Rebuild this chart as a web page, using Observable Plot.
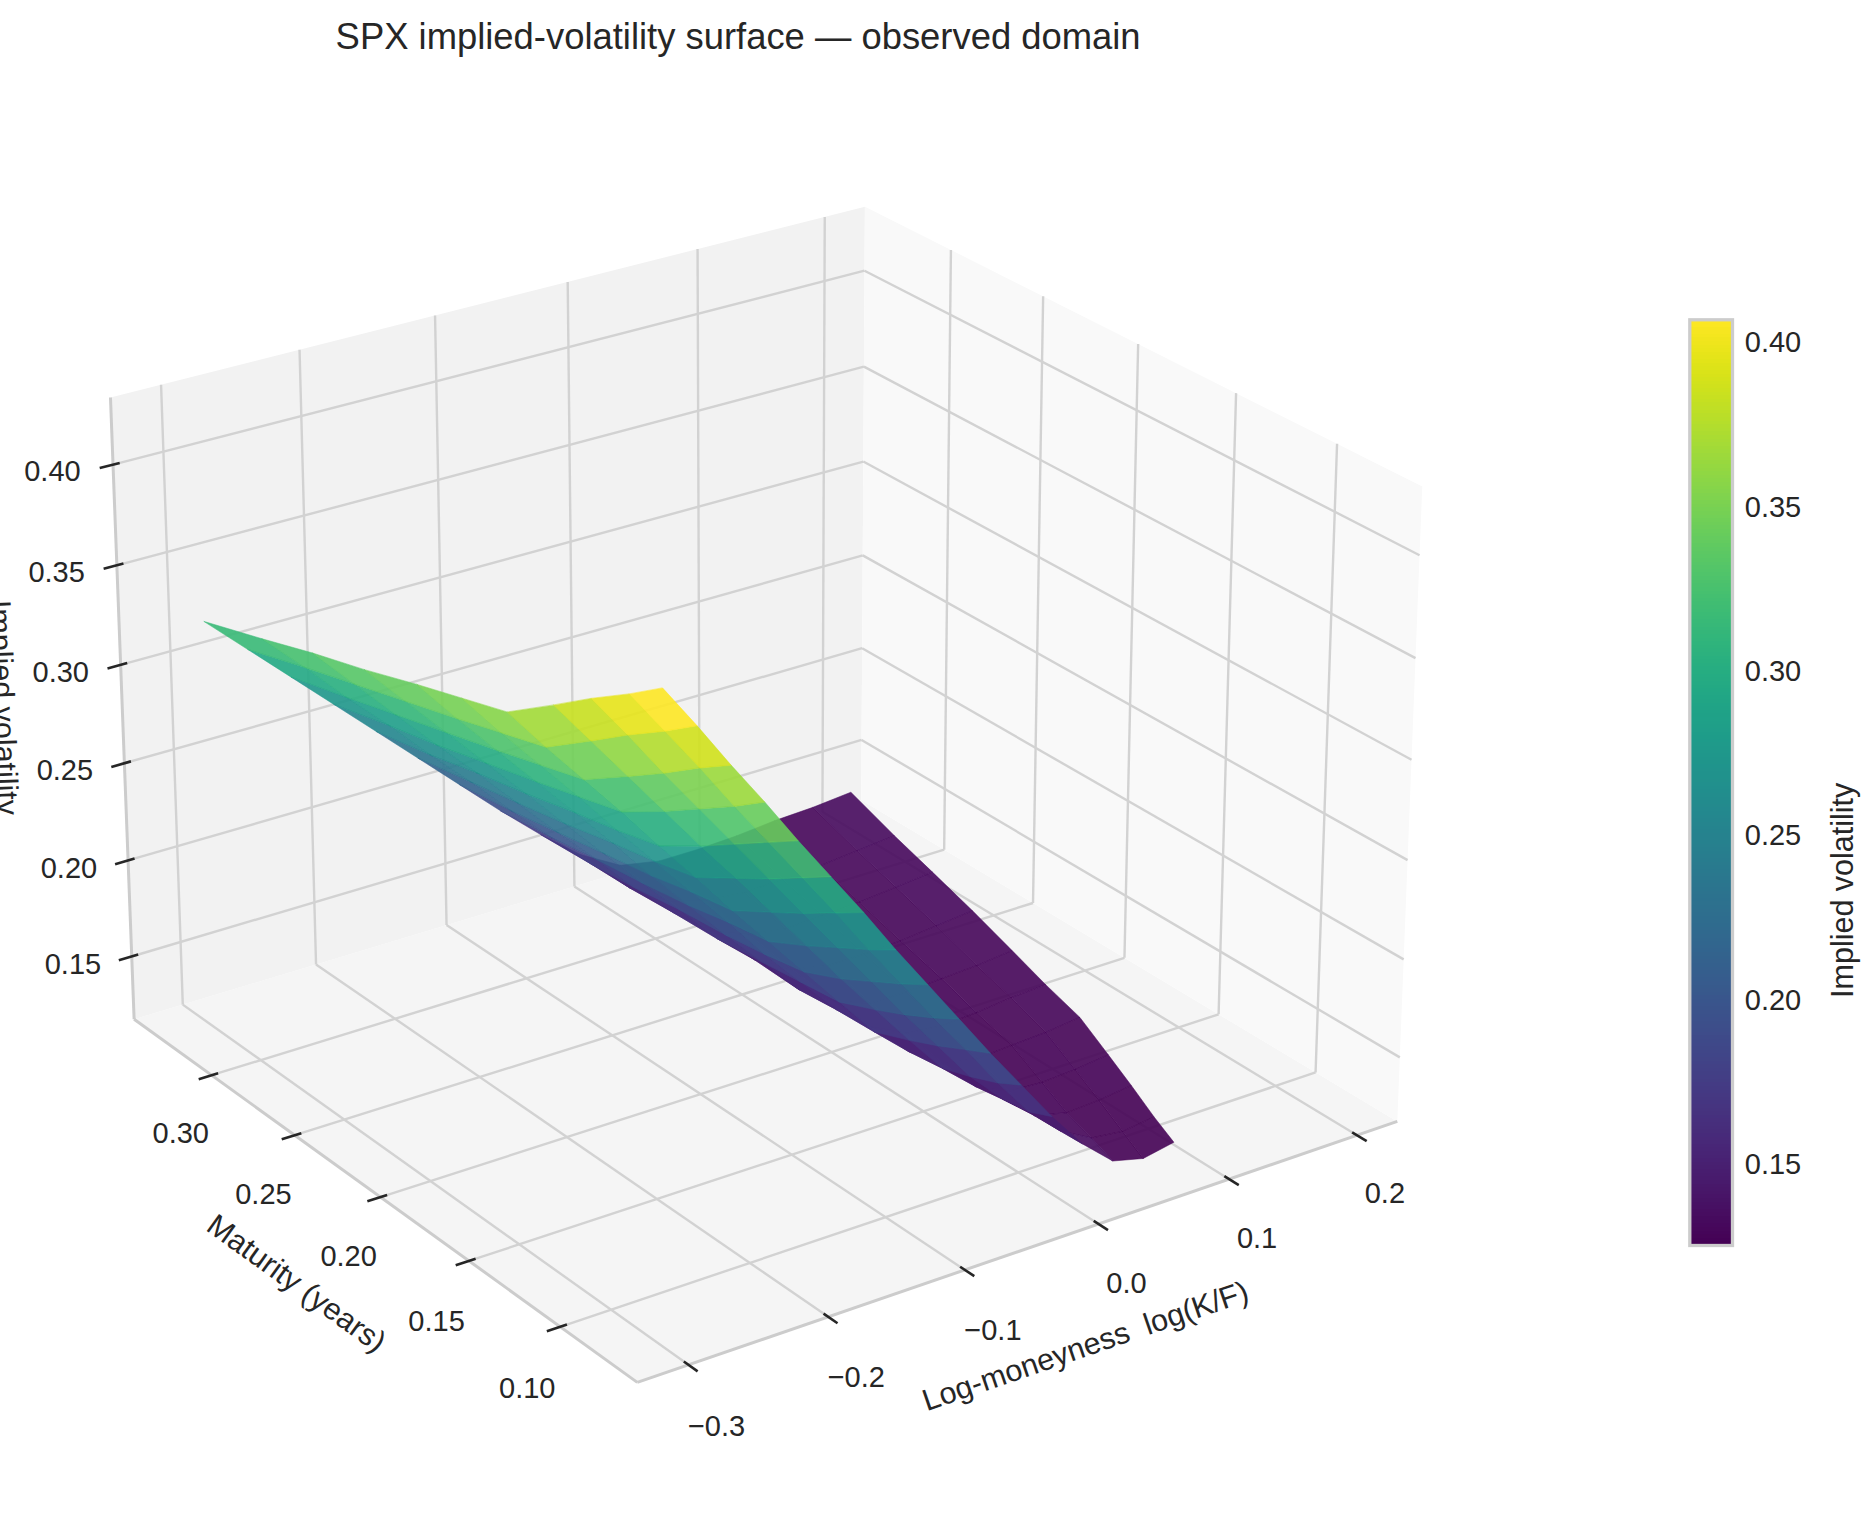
<!DOCTYPE html>
<html><head><meta charset="utf-8">
<script src="https://cdn.jsdelivr.net/npm/d3@7"></script>
<script src="https://cdn.jsdelivr.net/npm/@observablehq/plot@0.6"></script>
<style>
html,body{margin:0;padding:0;background:#fff;overflow:hidden;}
#wrap{position:relative;width:1867px;height:1518px;}
#main{position:absolute;left:0;top:0;}
#cbar{position:absolute;left:1670px;top:0;}
svg{font-family:"Liberation Sans",Arial,sans-serif;}
</style></head><body><div id="wrap"><div id="main"></div><div id="cbar"></div></div>
<script>
// ---------------- data (read / estimated from the picture) ----------------
// observed maturities (years) and the strike range seen at each maturity
const maturities = [0.078, 0.095, 0.115, 0.135, 0.16, 0.185, 0.21, 0.24, 0.27, 0.30, 0.335];
const kLow  = [-0.29, -0.29, -0.29, -0.29, -0.29, -0.29, -0.29, -0.29, -0.29, -0.29, -0.29];
const kHigh = [0.086, 0.0965, 0.109, 0.121, 0.136, 0.146, 0.156, 0.168, 0.179, 0.191, 0.205];
// position of each strike node inside [kLow, kHigh]
const nodeFrac = [0, 0.0625, 0.125, 0.1875, 0.25, 0.3125, 0.375, 0.4375, 0.5, 0.5625, 0.625, 0.6875, 0.75, 0.8125, 0.875, 0.9375, 1];
// implied volatility at every (maturity, node)
const vols = [
  [0.426, 0.404, 0.381, 0.359, 0.336, 0.314, 0.292, 0.269, 0.247, 0.225, 0.203, 0.182, 0.161, 0.142, 0.128, 0.124, 0.127],
  [0.414, 0.392, 0.370, 0.347, 0.325, 0.303, 0.281, 0.258, 0.236, 0.214, 0.193, 0.171, 0.151, 0.136, 0.127, 0.125, 0.127],
  [0.401, 0.379, 0.356, 0.334, 0.312, 0.290, 0.268, 0.246, 0.224, 0.202, 0.181, 0.160, 0.143, 0.129, 0.125, 0.126, 0.128],
  [0.387, 0.365, 0.343, 0.321, 0.299, 0.278, 0.256, 0.234, 0.212, 0.191, 0.170, 0.150, 0.135, 0.127, 0.126, 0.127, 0.129],
  [0.370, 0.348, 0.327, 0.306, 0.284, 0.263, 0.241, 0.220, 0.199, 0.178, 0.157, 0.141, 0.129, 0.126, 0.127, 0.128, 0.130],
  [0.363, 0.341, 0.320, 0.299, 0.277, 0.256, 0.235, 0.214, 0.192, 0.172, 0.152, 0.137, 0.128, 0.126, 0.127, 0.129, 0.130],
  [0.356, 0.334, 0.313, 0.292, 0.271, 0.250, 0.228, 0.207, 0.186, 0.166, 0.146, 0.134, 0.127, 0.127, 0.128, 0.129, 0.131],
  [0.347, 0.326, 0.305, 0.284, 0.263, 0.242, 0.221, 0.200, 0.180, 0.159, 0.142, 0.131, 0.127, 0.127, 0.128, 0.130, 0.132],
  [0.339, 0.318, 0.297, 0.276, 0.256, 0.235, 0.214, 0.194, 0.173, 0.154, 0.138, 0.130, 0.127, 0.128, 0.129, 0.131, 0.133],
  [0.330, 0.310, 0.289, 0.269, 0.248, 0.228, 0.207, 0.187, 0.167, 0.148, 0.135, 0.129, 0.127, 0.128, 0.129, 0.131, 0.133],
  [0.320, 0.300, 0.280, 0.260, 0.240, 0.220, 0.200, 0.180, 0.161, 0.144, 0.132, 0.128, 0.128, 0.129, 0.131, 0.132, 0.134]
];
const kTicks = [-0.3, -0.2, -0.1, 0.0, 0.1, 0.2];
const tTicks = [0.10, 0.15, 0.20, 0.25, 0.30];
const zTicks = [0.15, 0.20, 0.25, 0.30, 0.35, 0.40];
const colorDomain = [0.1254, 0.4071];

// ---------------- 3-D view (elevation 25, azimuth -125) ----------------
const ELEV = 25, AZIM = -125, DIST = 10;
const XLIM = [-0.336, 0.232], YLIM = [0.059, 0.348], ZLIM = [0.117, 0.433];
const S = 1.8294640721620434 * 25 / 24 / Math.hypot(4, 4, 3);
const BOX = [4 * S, 4 * S, 3 * S];
const H = BOX.map(b => b / 2), DEL = BOX.map(b => b / 12);
const er = ELEV * Math.PI / 180, ar = AZIM * Math.PI / 180;
const W = [Math.cos(er) * Math.cos(ar), Math.cos(er) * Math.sin(ar), Math.sin(er)];
const U = [-Math.sin(ar), Math.cos(ar), 0];
const V = [-Math.sin(er) * Math.cos(ar), -Math.sin(er) * Math.sin(ar), Math.cos(er)];
const toBox = (k, t, z) => [
  ((k - XLIM[0]) / (XLIM[1] - XLIM[0]) - 0.5) * BOX[0],
  ((t - YLIM[0]) / (YLIM[1] - YLIM[0]) - 0.5) * BOX[1],
  ((z - ZLIM[0]) / (ZLIM[1] - ZLIM[0]) - 0.5) * BOX[2]];
function projBox([X, Y, Z]) {
  const du = U[0] * X + U[1] * Y, dv = V[0] * X + V[1] * Y + V[2] * Z, dw = W[0] * X + W[1] * Y + W[2] * Z;
  const D = DIST - dw;
  return {x: du / D, y: dv / D, depth: D};
}
const proj = (k, t, z) => projBox(toBox(k, t, z));
const seg = (a, b) => { const p = projBox(a), q = projBox(b); return {x1: p.x, y1: p.y, x2: q.x, y2: q.y}; };
function textRotate(a, b) {
  const p = projBox(a), q = projBox(b);
  let ang = Math.atan2(q.y - p.y, q.x - p.x) * 180 / Math.PI;
  if (ang > 90) ang -= 180; if (ang <= -90) ang += 180;
  return -ang;
}

// panes
const pane = corners => corners.map(c => projBox(c));
const floorPane = pane([[-H[0], -H[1], -H[2]], [H[0], -H[1], -H[2]], [H[0], H[1], -H[2]], [-H[0], H[1], -H[2]]]);
const leftPane = pane([[-H[0], H[1], -H[2]], [H[0], H[1], -H[2]], [H[0], H[1], H[2]], [-H[0], H[1], H[2]]]);
const rightPane = pane([[H[0], -H[1], -H[2]], [H[0], H[1], -H[2]], [H[0], H[1], H[2]], [H[0], -H[1], H[2]]]);

// grid lines on the panes
const grid = [];
for (const k of kTicks) { const X = toBox(k, 0, 0)[0]; grid.push(seg([X, -H[1], -H[2]], [X, H[1], -H[2]]), seg([X, H[1], -H[2]], [X, H[1], H[2]])); }
for (const t of tTicks) { const Y = toBox(0, t, 0)[1]; grid.push(seg([-H[0], Y, -H[2]], [H[0], Y, -H[2]]), seg([H[0], Y, -H[2]], [H[0], Y, H[2]])); }
for (const z of zTicks) { const Z = toBox(0, 0, z)[2]; grid.push(seg([-H[0], H[1], Z], [H[0], H[1], Z]), seg([H[0], -H[1], Z], [H[0], H[1], Z])); }
const axisLines = [
  seg([-H[0], -H[1], -H[2]], [H[0], -H[1], -H[2]]),
  seg([-H[0], -H[1], -H[2]], [-H[0], H[1], -H[2]]),
  seg([-H[0], H[1], -H[2]], [-H[0], H[1], H[2]])];

// ticks and labels
const tickSegs = [], tickLabels = [];
const fmt1 = d3.format(".1f"), fmt2 = d3.format(".2f");
for (const k of kTicks) { const X = toBox(k, 0, 0)[0];
  tickSegs.push(seg([X, -H[1] - 0.2 * DEL[1], -H[2]], [X, -H[1] + 0.1 * DEL[1], -H[2]]));
  tickLabels.push({...projBox([X, -H[1] - 0.060, -H[2] - 0.059]), text: fmt1(k)}); }
for (const t of tTicks) { const Y = toBox(0, t, 0)[1];
  tickSegs.push(seg([-H[0] - 0.2 * DEL[0], Y, -H[2]], [-H[0] + 0.1 * DEL[0], Y, -H[2]]));
  tickLabels.push({...projBox([-H[0] - 0.0498, Y, -H[2] - 0.0713]), text: fmt2(t)}); }
for (const z of zTicks) { const Z = toBox(0, 0, z)[2];
  tickSegs.push(seg([-H[0] - 0.2 * DEL[0], H[1], Z], [-H[0] + 0.1 * DEL[0], H[1], Z]));
  tickLabels.push({...projBox([-H[0] - 0.0762, H[1] + 0.0236, Z]), text: fmt2(z)}); }
const axisLabels = [
  {...projBox([0, -H[1] - 0.119, -H[2] - 0.087]), text: "Log-moneyness \u00a0log(K/F)",
   rotate: textRotate([-H[0], -H[1], -H[2]], [H[0], -H[1], -H[2]])},
  {...projBox([-H[0] - 0.1198, 0, -H[2] - 0.094]), text: "Maturity (years)",
   rotate: textRotate([-H[0], -H[1], -H[2]], [-H[0], H[1], -H[2]])},
  {...projBox([-H[0] - 0.1172, H[1] + 0.1073, 0]), text: "Implied volatility",
   rotate: textRotate([-H[0], H[1], -H[2]], [-H[0], H[1], H[2]])}];

// surface faces, painted far to near
const nodeK = (i, j) => kLow[i] + nodeFrac[j] * (kHigh[i] - kLow[i]);
const faces = [];
for (let i = 0; i < maturities.length - 1; i++) for (let j = 0; j < nodeFrac.length - 1; j++) {
  const vs = [[i, j], [i, j + 1], [i + 1, j + 1], [i + 1, j]].map(([a, b]) => ({k: nodeK(a, b), t: maturities[a], z: vols[a][b]}));
  const pts = vs.map(p => proj(p.k, p.t, p.z));
  faces.push({pts, v: d3.mean(vs, p => p.z), depth: d3.mean(pts, p => p.depth)});
}
faces.sort((a, b) => b.depth - a.depth);
const faceVerts = faces.flatMap((f, id) => f.pts.map(p => ({x: p.x, y: p.y, id, v: f.v})));

const font = '"Liberation Sans", Arial, sans-serif';
const main = Plot.plot({
  width: 1867, height: 1518,
  marginLeft: 19.7, marginRight: 411.5, marginTop: 62.5, marginBottom: 19.7,
  x: {domain: [-0.095, 0.09], axis: null},
  y: {domain: [-0.095, 0.09], axis: null},
  color: {type: "linear", scheme: "viridis", domain: colorDomain, clamp: true},
  style: {fontFamily: font, color: "#262626", background: "white", overflow: "visible"},
  marks: [
    Plot.line(floorPane, {x: "x", y: "y", curve: "linear-closed", fill: "#f5f5f5", stroke: "none"}),
    Plot.line(leftPane, {x: "x", y: "y", curve: "linear-closed", fill: "#f2f2f2", stroke: "none"}),
    Plot.line(rightPane, {x: "x", y: "y", curve: "linear-closed", fill: "#f9f9f9", stroke: "none"}),
    Plot.link(grid, {x1: "x1", y1: "y1", x2: "x2", y2: "y2", stroke: "#d2d2d2", strokeWidth: 2.4}),
    Plot.link(axisLines, {x1: "x1", y1: "y1", x2: "x2", y2: "y2", stroke: "#cccccc", strokeWidth: 3}),
    Plot.link(tickSegs, {x1: "x1", y1: "y1", x2: "x2", y2: "y2", stroke: "#262626", strokeWidth: 2.6}),
    Plot.text(tickLabels, {x: "x", y: "y", text: "text", fontSize: 29, fill: "#262626"}),
    Plot.text(axisLabels, {x: "x", y: "y", text: "text", rotate: "rotate", fontSize: 30.5, fill: "#262626"}),
    Plot.line(faceVerts, {x: "x", y: "y", z: "id", fill: "v", stroke: "v", curve: "linear-closed",
      fillOpacity: 0.9, strokeOpacity: 0.85, strokeWidth: 0.6}),
    Plot.text(["SPX implied-volatility surface \u2014 observed domain"], {frameAnchor: "top", lineAnchor: "middle", dy: -25.8, fontSize: 36.4, fill: "#262626"})
  ]
});
document.getElementById("main").appendChild(main);

// colour bar
const stops = d3.range(256).map(i => ({
  y1: colorDomain[0] + (colorDomain[1] - colorDomain[0]) * i / 256,
  y2: colorDomain[0] + (colorDomain[1] - colorDomain[0]) * (i + 1) / 256}));
const cbar = Plot.plot({
  width: 197, height: 1518, marginLeft: 19.3, marginRight: 135, marginTop: 319.3, marginBottom: 273,
  x: {domain: [0, 1], axis: null},
  y: {domain: colorDomain, axis: null},
  color: {type: "linear", scheme: "viridis", domain: colorDomain},
  style: {fontFamily: font, color: "#262626", background: "transparent", overflow: "visible"},
  marks: [
    Plot.rect(stops, {x1: 0, x2: 1, y1: "y1", y2: "y2", fill: d => (d.y1 + d.y2) / 2, shapeRendering: "crispEdges"}),
    Plot.frame({stroke: "#cccccc", strokeWidth: 3.3}),
    Plot.axisY(zTicks, {anchor: "right", tickSize: 0, tickPadding: 12.3, tickFormat: d3.format(".2f"), fontSize: 29, label: null}),
    Plot.text(["Implied volatility"], {frameAnchor: "right", dx: 111, rotate: -90, fontSize: 30.5, fill: "#262626"})
  ]
});
document.getElementById("cbar").appendChild(cbar);
</script></body></html>
